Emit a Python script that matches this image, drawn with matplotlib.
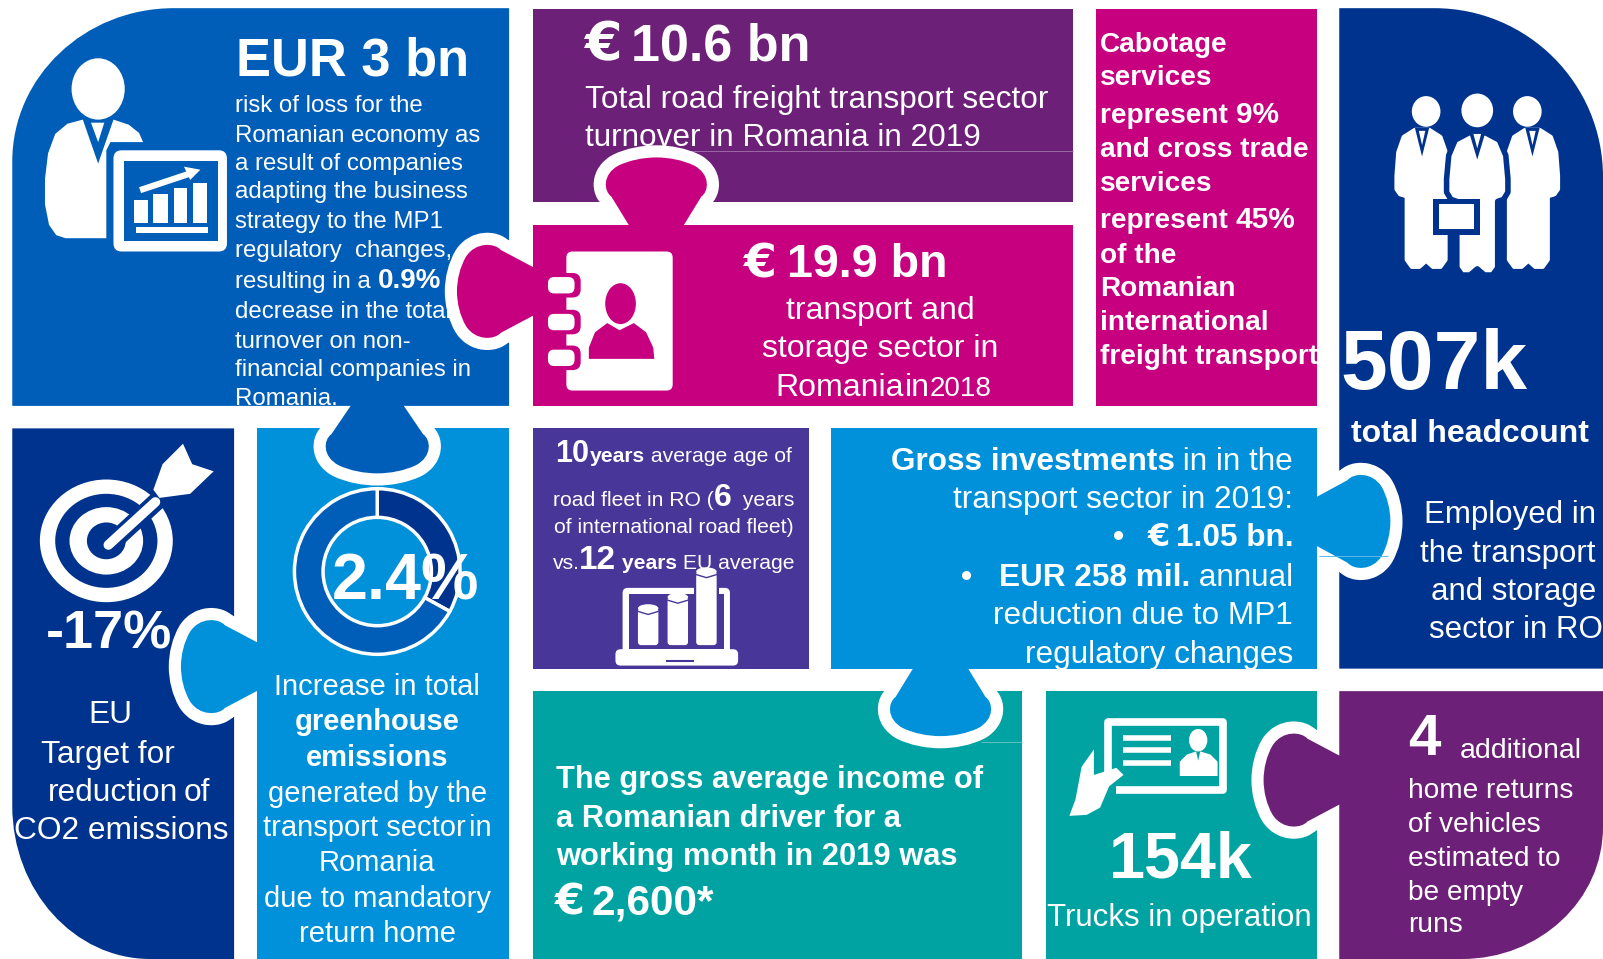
import itertools
import matplotlib
matplotlib.use('Agg')
import matplotlib.pyplot as plt
from matplotlib.path import Path
from matplotlib.patches import PathPatch, Ellipse, FancyBboxPatch, Rectangle, Polygon

plt.rcParams['font.family'] = ['Liberation Sans', 'DejaVu Sans']

# colours
BLUE = '#005EB8'
NAVY = '#00338D'
LIGHT = '#0091DA'
PURPLE = '#6D2077'
MAGENTA = '#C6007E'
VIOLET = '#483698'
TEAL = '#00A3A1'

# -------------------- data / text --------------------
donut_share = [33, 67]

p1_title = 'EUR 3 bn'
p1_lines = ['risk of loss for the', 'Romanian economy as', 'a result of companies',
            'adapting the business', 'strategy to the MP1', 'regulatory  changes,']
p1_lines2 = ['decrease in the total', 'turnover on non-', 'financial companies in', 'Romania.']
p2_title = '10.6 bn'
p2_lines = ['Total road freight transport sector', 'turnover in Romania in 2019']
p3_title = '19.9 bn'
p3_lines = ['transport and', 'storage sector in']
p4_lines = ['Cabotage', 'services', 'and cross trade', 'services',
            'of the', 'Romanian', 'international', 'freight transport']
p5_value = '507k'
p5_sub = 'total headcount'
p5_lines = ['Employed in', 'the transport', 'and storage', 'sector in RO']
p6_value = '-17%'
p6_lines = ['EU', 'Target for', 'reduction', 'of', 'CO2 emissions']
p7_value = '2.4%'
p7_lines = ['Increase in total', 'greenhouse', 'emissions', 'generated by the',
            'transport sector in', 'Romania', 'due to mandatory', 'return home']
p7_bold = ['greenhouse', 'emissions']
p10_lines = ['The gross average income of', 'a Romanian driver for a', 'working month in 2019 was']
p10_value = '2,600*'
p11_value = '154k'
p11_sub = 'Trucks in operation'
p12_value = '4'
p12_lines = ['home returns', 'of vehicles', 'estimated to', 'be empty', 'runs']

W_PX, H_PX = 1603, 959
fig = plt.figure(figsize=(W_PX / 100, H_PX / 100), dpi=100, facecolor='white')
ax = fig.add_axes([0, 0, 1, 1])
SCALE = W_PX / 1568

z = itertools.count(2)  # everything stacks in drawing order
rend = fig.canvas.get_renderer()


def panel(x0, y0, x1, y1, color, tl=None, tr=None, br=None, bl=None):
    k = 0.5523
    v, c = [], []

    def corner(ctrl1, ctrl2, p1):
        v.extend([ctrl1, ctrl2, p1])
        c.extend([Path.CURVE4] * 3)

    if tl:
        v.append((x0, y0 + tl[1])); c.append(Path.MOVETO)
        corner((x0, y0 + tl[1] * (1 - k)), (x0 + tl[0] * (1 - k), y0), (x0 + tl[0], y0))
    else:
        v.append((x0, y0)); c.append(Path.MOVETO)
    if tr:
        v.append((x1 - tr[0], y0)); c.append(Path.LINETO)
        corner((x1 - tr[0] * (1 - k), y0), (x1, y0 + tr[1] * (1 - k)), (x1, y0 + tr[1]))
    else:
        v.append((x1, y0)); c.append(Path.LINETO)
    if br:
        v.append((x1, y1 - br[1])); c.append(Path.LINETO)
        corner((x1, y1 - br[1] * (1 - k)), (x1 - br[0] * (1 - k), y1), (x1 - br[0], y1))
    else:
        v.append((x1, y1)); c.append(Path.LINETO)
    if bl:
        v.append((x0 + bl[0], y1)); c.append(Path.LINETO)
        corner((x0 + bl[0] * (1 - k), y1), (x0, y1 - bl[1] * (1 - k)), (x0, y1 - bl[1]))
    else:
        v.append((x0, y1)); c.append(Path.LINETO)
    v.append(v[0]); c.append(Path.CLOSEPOLY)
    ax.add_patch(PathPatch(Path(v, c), fc=color, ec='none', zorder=next(z)))


def knob_path(bx, by, dx, dy, L, W, n):
    px, py = -dy, dx

    def P(u, t):
        return (bx + dx * u + px * t, by + dy * u + py * t)

    # straight taper from the neck, then a round bulb
    su, st = .42 * L, .88 * W
    half = [(su / 3, n + (st - n) / 3), (su * 2 / 3, n + (st - n) * 2 / 3), (su, st),
            (.50 * L, 1.03 * W), (.75 * L, 1.06 * W), (.88 * L, .74 * W),
            (.96 * L, .52 * W), (L, .25 * W), (L, 0)]
    v = [P(-3, -n), P(0, -n)] + [P(u, -t) for u, t in half]
    v += [P(u, t) for u, t in reversed(half[:-1])] + [P(0, n), P(-3, n), P(-3, -n)]
    c = [Path.MOVETO, Path.LINETO] + [Path.CURVE4] * 18 + [Path.LINETO, Path.CLOSEPOLY]
    return Path(v, c)


def knob_outline(path):
    ax.add_patch(PathPatch(path, fc='white', ec='white', lw=17.5, joinstyle='round', zorder=next(z)))


def knob_fill(path, color):
    ax.add_patch(PathPatch(path, fc=color, ec='none', zorder=next(z)))


def txt(x, y, s, size, weight='normal', ha='left', color='white', family=None):
    kw = {'family': family} if family else {}
    return ax.text(x, y, s, fontsize=size, fontweight=weight, ha=ha, va='baseline',
                   color=color, zorder=next(z), **kw)


def euro(x, y, size):
    # the euro sign in the source is wider than the Liberation one
    txt(x, y, '€', size, 'bold', family='DejaVu Sans')


def width(s, size, weight):
    # bars keep the spaces at both ends in the measure
    t = ax.text(0, 0, '|' + s + '|', fontsize=size, fontweight=weight)
    a = t.get_window_extent(rend).width
    t.set_text('||')
    b = t.get_window_extent(rend).width
    t.remove()
    return (a - b) / SCALE


def runs(x, y, parts, ha='left'):
    total = sum(width(*p) for p in parts)
    if ha == 'center':
        x -= total / 2
    elif ha == 'right':
        x -= total
    for s, size, weight in parts:
        txt(x, y, s, size, weight)
        x += width(s, size, weight)


def poly(pts, color='white', **kw):
    ax.add_patch(Polygon(pts, closed=True, fc=color, ec=kw.pop('ec', 'none'), zorder=next(z), **kw))


def ell(x, y, rx, ry, color='white'):
    ax.add_patch(Ellipse((x, y), 2 * rx, 2 * ry, fc=color, ec='none', zorder=next(z)))


def rrect(x0, y0, x1, y1, r, color='white'):
    ax.add_patch(FancyBboxPatch((x0 + r, y0 + r), x1 - x0 - 2 * r, y1 - y0 - 2 * r,
                                boxstyle='round,pad=%f,rounding_size=%f' % (r, r),
                                fc=color, ec='none', zorder=next(z)))


def rect(x0, y0, x1, y1, color='white'):
    ax.add_patch(Rectangle((x0, y0), x1 - x0, y1 - y0, fc=color, ec='none', zorder=next(z)))


def line(xs, ys, color='white', lw=2, cap='round'):
    ax.plot(xs, ys, color=color, lw=lw, solid_capstyle=cap, solid_joinstyle='round', zorder=next(z))


def suit(cx, top, hw, arm_y, leg_c, leg_hw, bottom, bg=NAVY, edge='white', elw=3):
    c = hw * 0.28
    pts = [(cx - c, top), (cx - hw * .72, top + 7), (cx - hw * .93, top + 22), (cx - hw, top + 45),
           (cx - hw, top + 58), (cx - hw * .86, arm_y - 2), (leg_c - leg_hw, arm_y),
           (leg_c - leg_hw, bottom - 8), (leg_c - leg_hw + 5, bottom - 1), (leg_c - leg_hw * .35, bottom - 1),
           (leg_c, bottom - 7), (leg_c + leg_hw * .35, bottom - 1), (leg_c + leg_hw - 5, bottom - 1),
           (leg_c + leg_hw, bottom - 8), (leg_c + leg_hw, arm_y), (cx + hw * .86, arm_y - 2),
           (cx + hw, top + 58), (cx + hw, top + 45), (cx + hw * .93, top + 22), (cx + hw * .72, top + 7),
           (cx + c, top)]
    poly(pts, 'white', ec=edge, lw=elw, joinstyle='round')
    poly([(cx - c, top - 2), (cx, top + 26), (cx + c, top - 2)], bg)
    poly([(cx - c * .45, top + 1), (cx + c * .45, top + 1), (cx, top + 15)], 'white')


# -------------------- left column --------------------
panel(12, 419, 229, 938, NAVY, bl=(135, 150))
# target icon
ell(104, 529, 65, 60)
ell(104, 529, 50, 46, NAVY)
ell(104, 529, 36, 33)
ell(104, 529, 19, 18, NAVY)
line([106, 158], [534, 486], NAVY, lw=13, cap='butt')
line([106, 152], [533, 491], 'white', lw=7)
poly([(150, 479), (159, 454), (179, 434), (188, 454), (209, 461), (186, 483), (156, 487)])
txt(45, 634, p6_value, 39, 'bold')
for s, x, y in zip(p6_lines, [86, 40, 47, 180, 14], [707, 746, 783, 783, 821]):
    txt(x, y, s, 22.8)

k7 = knob_path(251, 652, -1, 0, 74, 46, 24)
knob_outline(k7)
panel(251, 419, 498, 938, LIGHT)
knob_fill(k7, LIGHT)

k1 = knob_path(369, 397, 0, 1, 66, 51, 26)
knob_outline(k1)

ax.pie(donut_share, colors=[NAVY, BLUE], center=(369, 559), radius=81, startangle=270,
       counterclock=True, frame=True,
       wedgeprops=dict(width=28, edgecolor='white', linewidth=2.5, zorder=next(z)))
ax.set_aspect('auto')
txt(397, 586, p7_value, 46.5, 'bold', ha='center')
for s, y in zip(p7_lines, [680, 714, 749, 784, 818, 852, 887, 921]):
    if s == 'transport sector in':
        # the source squeezes this line
        txt(257, y, 'transport sector', 21)
        txt(459, y, 'in', 21)
    else:
        txt(369, y, s, 21, 'bold' if s in p7_bold else 'normal', ha='center')

# top left panel
panel(12, 8, 498, 397, BLUE, tl=(158, 150))
knob_fill(k1, BLUE)
ell(96, 87, 26, 30)
poly([(81, 117), (96, 160), (111, 117), (126, 122), (136, 130), (140, 139), (108, 139), (104, 147), (104, 233),
      (64, 233), (55, 230), (48, 220), (44, 200), (44, 175), (47, 150), (54, 131), (66, 121)])
poly([(89, 120), (102, 120), (96, 139)])
rrect(111, 147, 222, 246, 8)
rect(121, 157, 213, 236, BLUE)
for x0, x1, y0 in zip([131, 150, 170, 189], [145, 164, 183, 202], [196, 190, 184, 179]):
    rect(x0, y0, x1, 218)
rect(133, 222, 203, 228)
line([137, 188], [186, 169], 'white', lw=4.5, cap='butt')
poly([(180, 163), (196, 166), (186, 176)])
txt(231, 74, p1_title, 37.8, 'bold')
for s, y in zip(p1_lines, [110, 139, 166, 194, 223, 251]):
    txt(230, y, s, 17.3)
runs(230, 282, [('resulting in a ', 17.3, 'normal'), ('0.9%', 20, 'bold')])
for s, y in zip(p1_lines2, [311, 340, 368, 396]):
    txt(230, y, s, 17.3)

# -------------------- middle top --------------------
panel(521, 9, 1050, 198, PURPLE)
line([640, 1050], [148, 148], '#9A6AA3', lw=0.7, cap='butt')
euro(571, 59, 39)
txt(617, 59, p2_title, 37.5, 'bold')
for s, y in zip(p2_lines, [106, 143]):
    txt(572, y, s, 22.7)

k3a = knob_path(642, 220, 0, -1, 66, 50, 27)
k3b = knob_path(521, 285, -1, 0, 74, 46, 24)
knob_outline(k3a)
knob_outline(k3b)
panel(521, 220, 1050, 397, MAGENTA)
knob_fill(k3a, MAGENTA)
knob_fill(k3b, MAGENTA)

# address book icon
rrect(554, 246, 658, 382, 6)
for y0 in [267, 303, 338]:
    rrect(531, y0, 568, y0 + 24, 8, MAGENTA)
    rrect(536, y0 + 4, 562, y0 + 20, 6)
ell(607, 297, 15, 20, MAGENTA)
poly([(576, 351), (576, 340), (582, 325), (594, 316), (606, 323), (620, 316), (632, 325), (639, 340), (640, 351)], MAGENTA)

euro(728, 271, 34)
txt(770, 271, p3_title, 33.6, 'bold')
for s, y in zip(p3_lines, [312, 349]):
    txt(861, y, s, 23, ha='center')
# 'Romania in 2018' is squeezed in the source
txt(758, 387, 'Romania', 23)
txt(885, 387, 'in', 23)
txt(909, 387, '2018', 20)

panel(1072, 9, 1288, 397, MAGENTA)
for s, y in zip(p4_lines, [51, 83, 154, 187, 257, 290, 323, 356]):
    txt(1076, y, s, 20.2, 'bold')
runs(1076, 120, [('represent ', 20.2, 'bold'), ('9%', 21.5, 'bold')])
runs(1076, 223, [('represent ', 20.2, 'bold'), ('45%', 21.5, 'bold')])

# -------------------- right column --------------------
panel(1310, 8, 1568, 654, NAVY, tr=(165, 165))
ell(1395, 109, 14, 15)
ell(1494, 109, 14, 15)
suit(1391, 127, 25, 192, 1395, 19, 262)
suit(1499, 127, 25, 192, 1495, 19, 262)
ell(1445, 108, 15.5, 16.5)
suit(1445, 130, 30, 197, 1445, 20, 270, edge=NAVY, elw=4)
rect(1402, 195, 1448, 230, NAVY)
rect(1408, 200, 1442, 224)
txt(1311, 380, p5_value, 60.5, 'bold')
txt(1438, 432, p5_sub, 23, 'bold', ha='center')
for s, x, y in zip(p5_lines, [1561, 1561, 1561, 1568], [512, 550, 587, 624]):
    txt(x, y, s, 22.5, ha='right')

# -------------------- middle row --------------------
panel(521, 419, 791, 654, VIOLET)
txt(543, 452, '10', 22, 'bold')
runs(577, 452, [('years', 15.2, 'bold'), (' average age of', 15.2, 'normal')])
runs(659, 495, [('road fleet in RO (', 15.2, 'normal'), ('6', 23, 'bold'), ('  years', 15.2, 'normal')], ha='center')
txt(659, 521, 'of international road fleet)', 15.2, ha='center')
runs(659, 557, [('vs.', 15.2, 'normal'), ('12', 24, 'bold'), (' years', 15.2, 'bold'), (' EU average', 15.2, 'normal')], ha='center')

# laptop icon
rrect(609, 575, 714, 640, 5)
rect(615, 581, 708, 635, VIOLET)
rrect(602, 635, 722, 651, 5)
line([651, 679], [647, 647], VIOLET, lw=1.5, cap='butt')
for x0, x1, y0 in zip([624, 653, 681], [644, 673, 701], [595, 584, 559]):
    rect(x0 - 2, y0 - 2, x1 + 2, 630, VIOLET)
    rrect(x0, y0, x1, 631, 3)
    ell((x0 + x1) / 2, y0, (x1 - x0) / 2, 4)
    line([x0, (x0 + x1) / 2, x1], [y0 + 3, y0 + 6, y0 + 3], VIOLET, lw=1)

k9a = knob_path(1288, 510, 1, 0, 72, 46, 24)
knob_outline(k9a)

panel(521, 676, 1000, 938, TEAL)
line([960, 1000], [726, 726], '#5CC4C2', lw=0.7, cap='butt')
k9b = knob_path(920, 654, 0, 1, 66, 50, 27)
knob_outline(k9b)
panel(813, 419, 1288, 654, LIGHT)
knob_fill(k9a, LIGHT)
knob_fill(k9b, LIGHT)
line([1290, 1358], [544, 544], '#5FB7E8', lw=0.7, cap='butt')
runs(1265, 460, [('Gross investments', 22.7, 'bold'), (' in in the', 22.7, 'normal')], ha='right')
txt(1265, 497, 'transport sector in 2019:', 22.7, ha='right')
txt(1094, 534, '•', 23, 'bold', ha='center')
euro(1123, 534, 23)
txt(1265, 534, '1.05 bn.', 22.7, 'bold', ha='right')
txt(945, 573, '•', 23, 'bold', ha='center')
runs(1265, 573, [('EUR 258 mil.', 22.7, 'bold'), (' annual', 22.7, 'normal')], ha='right')
txt(1265, 610, 'reduction due to MP1', 22.7, ha='right')
txt(1265, 648, 'regulatory changes', 22.7, ha='right')

for s, y in zip(p10_lines, [771, 809, 846]):
    txt(544, y, s, 22.25, 'bold')
euro(543, 894, 31)
txt(579, 894, p10_value, 30.5, 'bold')

# -------------------- bottom right --------------------
panel(1023, 676, 1288, 938, TEAL)
# id card with hand
line([1084, 1084, 1196, 1196, 1092], [755, 706, 706, 773, 773], 'white', lw=5.5, cap='butt')
for y in [722, 734, 746]:
    line([1098, 1145], [y, y], 'white', lw=4, cap='butt')
ell(1172, 724, 9, 11)
poly([(1154, 759), (1154, 745), (1161, 738), (1170, 735), (1172, 744), (1174, 735), (1184, 738),
      (1191, 745), (1191, 759)])
poly([(1046, 798), (1052, 782), (1058, 750), (1070, 733), (1070, 758), (1092, 751), (1099, 758),
      (1085, 769), (1076, 790), (1063, 797)])
txt(1155, 858, p11_value, 46.5, 'bold', ha='center')
txt(1154, 906, p11_sub, 22.5, ha='center')

k12 = knob_path(1310, 763, -1, 0, 74, 46, 24)
knob_outline(k12)
panel(1310, 676, 1568, 938, PURPLE, br=(138, 129))
knob_fill(k12, PURPLE)
txt(1377, 738, p12_value, 42, 'bold')
txt(1428, 741, 'additional', 20.5)
for s, y in zip(p12_lines, [781, 814, 847, 880, 912]):
    txt(1377, y, s, 20.2)

ax.set_xlim(0, 1568)
ax.set_ylim(938, 0)
ax.axis('off')
fig.savefig('out.png', dpi=100)
